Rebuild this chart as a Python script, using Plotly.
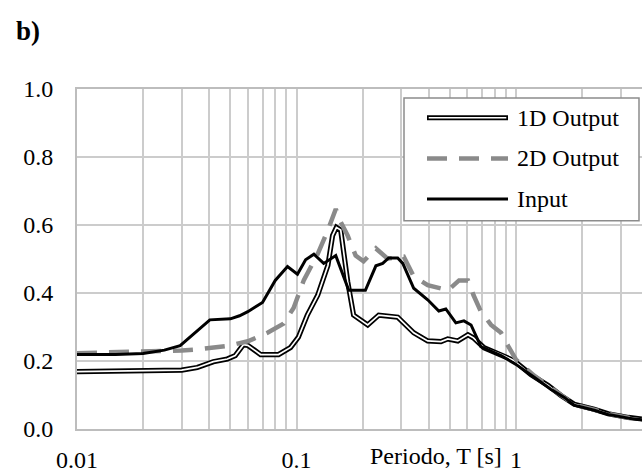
import plotly.graph_objects as go

# Response spectra: period T [s] and spectral ordinate for each signal
t_input = [0.01, 0.015, 0.02, 0.025, 0.0295, 0.0403, 0.05, 0.055, 0.06, 0.07, 0.08, 0.091,
           0.101, 0.11, 0.12, 0.133, 0.151, 0.173, 0.206, 0.23, 0.247, 0.263, 0.289, 0.305,
           0.342, 0.396, 0.445, 0.479, 0.532, 0.579, 0.624, 0.692, 0.855, 1.0, 1.21, 1.44,
           1.66, 1.84, 2.27, 2.63, 3.25, 3.8]
sa_input = [0.219, 0.219, 0.222, 0.232, 0.245, 0.321, 0.324, 0.333, 0.345, 0.372, 0.437, 0.478,
            0.455, 0.498, 0.514, 0.487, 0.51, 0.408, 0.408, 0.48, 0.487, 0.503, 0.503, 0.487,
            0.414, 0.38, 0.347, 0.353, 0.312, 0.318, 0.306, 0.242, 0.216, 0.19, 0.152, 0.117,
            0.093, 0.07, 0.055, 0.043, 0.032, 0.027]

t_1d = [0.01, 0.02, 0.03, 0.0353, 0.0418, 0.0484, 0.0526, 0.0573, 0.06, 0.0686, 0.0828, 0.094,
        0.102, 0.112, 0.125, 0.139, 0.146, 0.152, 0.159, 0.171, 0.182, 0.211, 0.237, 0.289,
        0.342, 0.396, 0.455, 0.489, 0.543, 0.604, 0.64, 0.715, 0.855, 0.98, 1.17, 1.4, 1.6,
        1.84, 2.27, 2.63, 3.25, 3.8]
sa_1d = [0.169, 0.171, 0.173, 0.181, 0.198, 0.206, 0.216, 0.248, 0.246, 0.219, 0.219, 0.24,
         0.27, 0.335, 0.394, 0.481, 0.569, 0.593, 0.585, 0.434, 0.335, 0.306, 0.335, 0.329,
         0.283, 0.259, 0.257, 0.265, 0.259, 0.277, 0.268, 0.239, 0.219, 0.201, 0.16, 0.128,
         0.099, 0.073, 0.058, 0.045, 0.034, 0.029]

t_2d = [0.01, 0.02, 0.025, 0.03, 0.035, 0.0484, 0.06, 0.0738, 0.0873, 0.097, 0.108, 0.125,
        0.139, 0.151, 0.159, 0.171, 0.186, 0.202, 0.23, 0.26, 0.308, 0.342, 0.396, 0.455,
        0.49, 0.55, 0.604, 0.64, 0.69, 0.77, 0.855, 0.93, 1.0, 1.21, 1.44, 1.6, 1.84, 2.27,
        2.63, 3.25, 3.8]
sa_2d = [0.223, 0.226, 0.229, 0.231, 0.234, 0.244, 0.258, 0.283, 0.31, 0.356, 0.438, 0.515,
         0.585, 0.647, 0.609, 0.569, 0.51, 0.493, 0.531, 0.501, 0.507, 0.449, 0.423, 0.414,
         0.408, 0.437, 0.437, 0.394, 0.347, 0.306, 0.283, 0.239, 0.204, 0.157, 0.122, 0.098,
         0.072, 0.057, 0.045, 0.033, 0.028]

x_ticks = [0.01, 0.1, 1]
x_tick_text = ["0.01", "0.1", "1"]
x_minor = [m * d for d in (0.01, 0.1, 1) for m in range(2, 10)]
legend_names = ["1D Output", "2D Output", "Input"]

SERIF = "Liberation Serif, Times New Roman, serif"
GRID = "#cccccc"

fig = go.Figure()

# 1D output: black line with a white core (double-line look)
fig.add_trace(go.Scatter(x=t_1d, y=sa_1d, mode="lines",
                         line=dict(color="black", width=5.2), hoverinfo="skip"))
fig.add_trace(go.Scatter(x=t_1d, y=sa_1d, mode="lines",
                         line=dict(color="white", width=1.7), hoverinfo="skip"))
# 2D output: grey dashed
fig.add_trace(go.Scatter(x=t_2d, y=sa_2d, mode="lines",
                         line=dict(color="#8a8a8a", width=4.5, dash="20px,12px"),
                         hoverinfo="skip"))
# Input motion: solid black
fig.add_trace(go.Scatter(x=t_input, y=sa_input, mode="lines",
                         line=dict(color="black", width=3), hoverinfo="skip"))

L, R, T, B = 77, 0, 89, 41
W, H = 642, 473
pw, ph = W - L - R, H - T - B


def px_x(px):
    return (px - L) / pw


def px_y(py):
    return (H - B - py) / ph


# hand-drawn legend box
shapes = [dict(type="rect", xref="paper", yref="paper",
               x0=px_x(404), x1=px_x(639), y0=px_y(222), y1=px_y(98),
               line=dict(color="#8c8c8c", width=1.5), fillcolor="white", layer="above")]
sample_x0, sample_x1 = px_x(427), px_x(508)
rows = [px_y(118), px_y(159), px_y(200)]
shapes += [
    dict(type="line", xref="paper", yref="paper", x0=sample_x0, x1=sample_x1,
         y0=rows[0], y1=rows[0], line=dict(color="black", width=5.2), layer="above"),
    dict(type="line", xref="paper", yref="paper", x0=sample_x0 + 0.003, x1=sample_x1 - 0.003,
         y0=rows[0], y1=rows[0], line=dict(color="white", width=1.7), layer="above"),
    dict(type="line", xref="paper", yref="paper", x0=sample_x0, x1=sample_x1,
         y0=rows[1], y1=rows[1], line=dict(color="#8a8a8a", width=4.5, dash="20px,12px"),
         layer="above"),
    dict(type="line", xref="paper", yref="paper", x0=sample_x0, x1=sample_x1,
         y0=rows[2], y1=rows[2], line=dict(color="black", width=3), layer="above"),
]

annotations = [
    dict(text=name, xref="paper", yref="paper", x=px_x(515), y=yy, xanchor="left",
         yanchor="middle", showarrow=False, font=dict(family=SERIF, size=24, color="black"))
    for name, yy in zip(legend_names, rows)
]
annotations.append(dict(text="Periodo, T [s]", xref="paper", yref="paper",
                        x=px_x(504), y=px_y(459), xanchor="right", yanchor="middle",
                        showarrow=False, font=dict(family=SERIF, size=24, color="black")))
annotations.append(dict(text="<b>b)</b>", xref="paper", yref="paper",
                        x=px_x(14), y=px_y(30), xanchor="left", yanchor="middle",
                        showarrow=False, font=dict(family=SERIF, size=27, color="black")))

fig.update_layout(
    width=W, height=H,
    margin=dict(l=L, r=R, t=T, b=B, pad=0),
    paper_bgcolor="white", plot_bgcolor="white",
    showlegend=False,
    shapes=shapes, annotations=annotations,
    font=dict(family=SERIF, size=24, color="black"),
    xaxis=dict(type="log", range=[-2, -2 + pw / 219.5],
               tickmode="array", tickvals=x_ticks, ticktext=x_tick_text,
               showgrid=True, gridcolor=GRID, gridwidth=1.5,
               minor=dict(tickmode="array", tickvals=x_minor, showgrid=True,
                          gridcolor=GRID, gridwidth=1.5, ticks=""),
               showline=True, linecolor="#bdbdbd", linewidth=2, mirror=True,
               ticks="", ticklabelstandoff=8, zeroline=False,
               tickfont=dict(family=SERIF, size=24, color="black")),
    yaxis=dict(range=[0, 1], tickmode="array", tickvals=[0, 0.2, 0.4, 0.6, 0.8, 1.0],
               tickformat=".1f", showgrid=True, gridcolor=GRID, gridwidth=1.5,
               showline=True, linecolor="#bdbdbd", linewidth=2,
               ticks="", ticklabelstandoff=17, zeroline=False,
               tickfont=dict(family=SERIF, size=24, color="black")),
)

fig.write_html("out.html")
